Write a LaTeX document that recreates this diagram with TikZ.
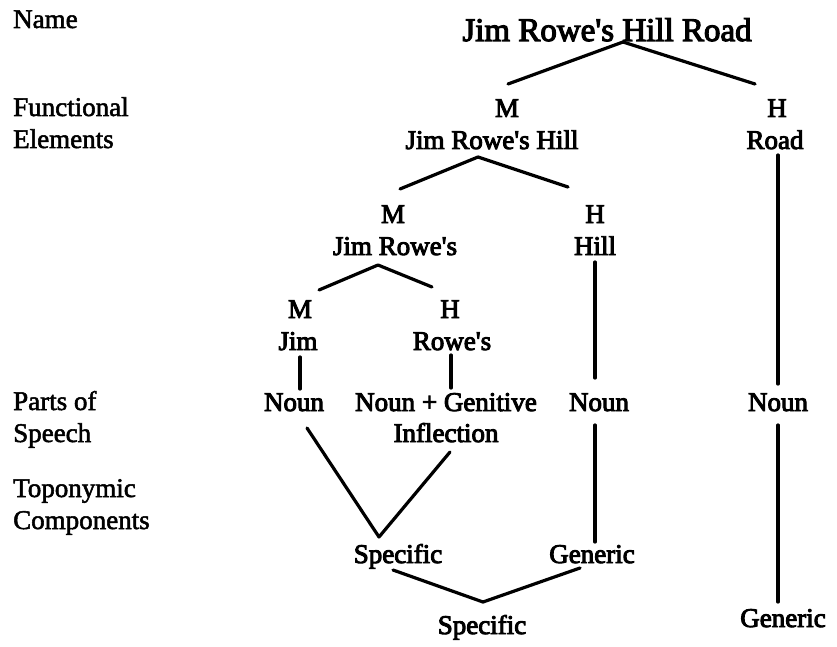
\documentclass[tikz,border=0pt]{standalone}
\usepackage{fontspec}
\setmainfont{Liberation Serif}
\newfontfamily\labelfont[FakeBold=2]{Liberation Serif}
\newfontfamily\treefont[FakeBold=3.5]{Liberation Serif}
\usetikzlibrary{calc}

\tikzset{
  rowlabel/.style={anchor=base west, inner sep=0pt,
    font=\labelfont\fontsize{27}{32}\selectfont},
  word/.style={anchor=base, inner sep=0pt,
    font=\treefont\fontsize{27}{32}\selectfont},
  headword/.style={anchor=base, inner sep=0pt,
    font=\treefont\fontsize{33}{38}\selectfont},
  branch/.style={line width=3.2pt, line cap=round, line join=round},
}

\begin{document}
\begin{tikzpicture}[x=1pt, y=-1pt]
\useasboundingbox (0,0) rectangle (837,647);

% row labels on the left
\node[rowlabel] (lname)  at (13,28)  {Name};
\node[rowlabel] (lfunc)  at (13,116) {Functional};
\node[rowlabel] (lelem)  at (13,148) {Elements};
\node[rowlabel] (lparts) at (13,410) {Parts of};
\node[rowlabel] (lspch)  at (13,442) {Speech};
\node[rowlabel] (ltopo)  at (13,497) {Toponymic};
\node[rowlabel] (lcomp)  at (13,529) {Components};

% the name and its functional elements
\node[headword] (title) at (607,41) {Jim Rowe's Hill Road};
\node[word] (m1)    at (507,117) {M};
\node[word] (h1)    at (777,117) {H};
\node[word] (jrh)   at (492,149) {Jim Rowe's Hill};
\node[word] (road)  at (775,149) {Road};
\node[word] (m2)    at (393,223) {M};
\node[word] (h2)    at (595,223) {H};
\node[word] (jr)    at (395,255) {Jim Rowe's};
\node[word] (hill)  at (595,255) {Hill};
\node[word] (m3)    at (300,318) {M};
\node[word] (h3)    at (450,318) {H};
\node[word] (jim)   at (298,350) {Jim};
\node[word] (rowes) at (452,350) {Rowe's};

% parts of speech
\node[word] (noun1)   at (294,411) {Noun};
\node[word] (noungen) at (446,411) {Noun + Genitive};
\node[word] (infl)    at (446,442) {Inflection};
\node[word] (noun2)   at (599,411) {Noun};
\node[word] (noun3)   at (778,411) {Noun};

% toponymic components
\node[word] (spec1) at (398,563) {Specific};
\node[word] (gen1)  at (592,563) {Generic};
\node[word] (spec2) at (482,634) {Specific};
\node[word] (gen2)  at (783,627) {Generic};

% branches of the tree
\draw[branch] ($(m1.base)+(1,-33)$) -- ($(title.base)+(16,1)$) -- ($(h1.base)+(-22,-33)$);
\draw[branch] ($(m2.base)+(7,-34)$) -- ($(jrh.base)+(-14,8)$) -- ($(h2.base)+(-27,-36)$);
\draw[branch] ($(m3.base)+(19,-28)$) -- ($(jr.base)+(-17,10)$) -- ($(h3.base)+(-18,-31)$);

\draw[branch] ($(jim.base)+(2,7)$)    -- ($(noun1.base)+(6,-22)$);
\draw[branch] ($(rowes.base)+(-1,5)$) -- ($(noungen.base)+(5,-23)$);
\draw[branch] ($(hill.base)+(0,7)$)   -- ($(noun2.base)+(-4,-33)$);
\draw[branch] ($(road.base)+(3,6)$)   -- ($(noun3.base)+(0,-27)$);

\draw[branch] ($(noun1.base)+(13,17)$) -- ($(spec1.base)+(-19,-26)$) -- ($(infl.base)+(4,10)$);
\draw[branch] ($(noun2.base)+(-4,14)$) -- ($(gen1.base)+(3,-21)$);
\draw[branch] ($(noun3.base)+(0,14)$)  -- ($(gen2.base)+(-5,-25)$);

\draw[branch] ($(spec1.base)+(-5,7)$) -- ($(spec2.base)+(1,-32)$) -- ($(gen1.base)+(-12,5)$);
\end{tikzpicture}
\end{document}
